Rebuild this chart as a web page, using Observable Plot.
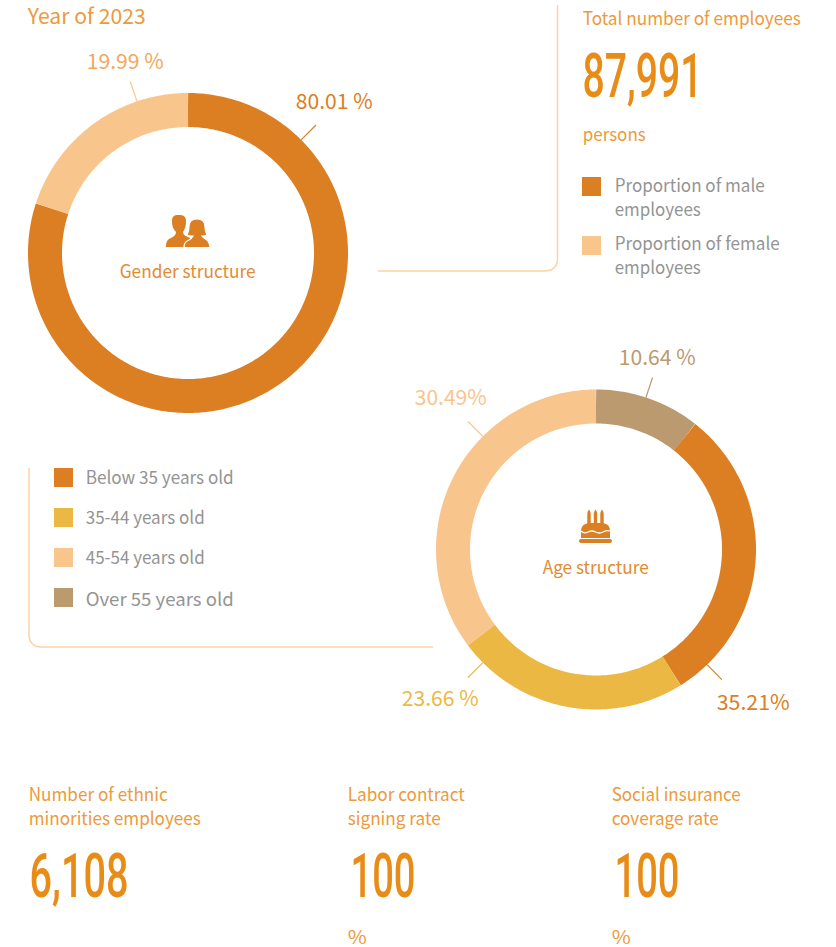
<!DOCTYPE html>
<html><head><meta charset="utf-8">
<style>html,body{margin:0;padding:0;background:#fff;overflow:hidden}svg{display:block}</style>
<script src="https://cdn.jsdelivr.net/npm/d3@7"></script>
<script src="https://cdn.jsdelivr.net/npm/@observablehq/plot@0.6"></script>
</head><body><div id="chart"></div>
<script>
// ---- data ----
const genderCategories = ["Proportion of male employees", "Proportion of female employees"];
const genderValues = [80.01, 19.99];
const ageCategories = ["Below 35 years old", "35-44 years old", "45-54 years old", "Over 55 years old"];
const ageLabelValues = [35.21, 23.66, 30.49, 10.64];      // as printed beside the ring
const ageArcValues = [30.49, 23.66, 35.21, 10.64];        // as drawn: the printed 35.21 / 30.49 arcs are swapped in the picture
const ageDrawOrder = [3, 0, 1, 2]; // clockwise from twelve o'clock
const colorDomain = ["male", "female", ...ageCategories];
const colorRange = ["#DC7E22", "#F8C58D", "#DC7E22", "#ECB844", "#F8C58D", "#BB9A70"];

// ---- styles ----
const ORANGE = "#E98C17", SOFT = "#EC9A3C", GREY = "#949494", FRAME = "#FBD3A6";
const FONT = "Noto Sans CJK SC", NUM = "Roboto";
const R_OUT = 160, R_IN = 126, R_MID = (R_OUT + R_IN) / 2, R_TICK = 181;
const genderC = [187.5, 252.5], ageC = [595.5, 549];

// ---- donut rings as thick lines, from the values ----
function ring(values, keys, [cx, cy]) {
  const rows = [];
  d3.pie().sort(null)(values).forEach((a, i) => {
    const n = Math.max(2, Math.ceil((a.endAngle - a.startAngle) / (Math.PI / 180)));
    for (let k = 0; k <= n; k++) {
      const t = a.startAngle + (a.endAngle - a.startAngle) * k / n;
      rows.push({key: keys[i], x: cx + R_MID * Math.sin(t), y: cy - R_MID * Math.cos(t)});
    }
  });
  return rows;
}
const rings = [
  ...ring(genderValues, ["male", "female"], genderC),
  ...ring(ageDrawOrder.map(i => ageArcValues[i]), ageDrawOrder.map(i => ageCategories[i]), ageC)
];

// ---- leader lines ----
const tick = ([cx, cy], deg, stroke) => {
  const t = deg * Math.PI / 180;
  return {stroke,
    x1: cx + R_OUT * Math.sin(t), y1: cy - R_OUT * Math.cos(t),
    x2: cx + R_TICK * Math.sin(t), y2: cy - R_TICK * Math.cos(t)};
};
const ticks = [
  tick(genderC, 45, "#DC7E22"), tick(genderC, -18.6, "#F8C58D"),
  tick(ageC, 18.2, "#BB9A70"), tick(ageC, 136, "#DC7E22"),
  tick(ageC, 225, "#ECB844"), tick(ageC, -45, "#F8C58D")
];

// ---- swatches ----
const swatches = [
  ["male", 582, 177], ["female", 582, 236],
  [ageCategories[0], 54, 468], [ageCategories[1], 54, 508],
  [ageCategories[2], 54, 548], [ageCategories[3], 54, 588]
].map(([key, x, y]) => ({key, x1: x, x2: x + 19, y1: y, y2: y + 19}));

// ---- text: [string, left x, baseline y, size, colour, fitted width, font, weight]
const texts = [
  ["Year of 2023", 27.2, 23, 21, SOFT, 118],
  ["Total number of employees", 582.2, 24, 18, SOFT, 218],
  ["87,991", 582, 96, 62, ORANGE, 120, NUM, 500],
  ["persons", 582.2, 140, 18, SOFT, 63],
  ["Proportion of male", 614.2, 191, 18, GREY, 150],
  ["employees", 614.2, 215, 18, GREY, 86],
  ["Proportion of female", 614.2, 249, 18, GREY, 165],
  ["employees", 614.2, 273, 18, GREY, 86],
  [genderValues[1].toFixed(2) + " %", 86.2, 68, 21, "#F4A65C", 77],
  [genderValues[0].toFixed(2) + " %", 295.2, 108, 21, "#DC7E22", 77],
  ["Gender structure", 119.2, 277, 18, "#E38B33", 136],
  ["Age structure", 542.2, 573, 18, "#E38B33", 106],
  [ageLabelValues[3].toFixed(2) + " %", 618.2, 364, 21, "#BB9A70", 77],
  [ageLabelValues[2].toFixed(2) + "%", 414.2, 404, 21, "#F8C58D", 72],
  [ageLabelValues[1].toFixed(2) + " %", 401.2, 705, 21, "#ECB844", 77],
  [ageLabelValues[0].toFixed(2) + "%", 716.2, 709, 21, "#DC7E22", 73],
  [ageCategories[0], 85.2, 483, 18, GREY, 148],
  [ageCategories[1], 85.2, 523, 18, GREY, 119],
  [ageCategories[2], 85.2, 563, 18, GREY, 119],
  [ageCategories[3], 85.2, 605, 18, GREY, 148],
  ["Number of ethnic", 28.2, 800, 18, SOFT, 139],
  ["minorities employees", 28.2, 824, 18, SOFT, 172],
  ["Labor contract", 347.2, 800, 18, SOFT, 117],
  ["signing rate", 347.2, 824, 18, SOFT, 93],
  ["Social insurance", 611.2, 800, 18, SOFT, 129],
  ["coverage rate", 611.2, 824, 18, SOFT, 107],
  ["6,108", 29, 896, 62, ORANGE, 99, NUM, 500],
  ["100", 350, 896, 62, ORANGE, 65, NUM, 500],
  ["100", 614, 896, 62, ORANGE, 65, NUM, 500],
  ["%", 347.2, 943, 18, SOFT, 19],
  ["%", 611.2, 943, 18, SOFT, 19]
];

// ---- decoration: frames and icons ----
const decoration = () => {
  const g = d3.create("svg:g");
  g.append("path").attr("fill", "none").attr("stroke", FRAME).attr("stroke-width", 1.5)
    .attr("d", "M557.5,5V258Q557.5,271 544.5,271H378");
  g.append("path").attr("fill", "none").attr("stroke", FRAME).attr("stroke-width", 1.5)
    .attr("d", "M29,468V634Q29,647 42,647H433");
  const c = "#DC7E22";
  const people = g.append("g").attr("fill", c);
  people.append("path").attr("d", "M172,221C172,215 176,215 179,215C183,215 186,216 186,221C186,226 185,229 183,232C183,235 186,236 190,238C193,239 196,241 197,247H166C166,241 168,239 171,238C174,236 176,235 176,232C173,229 172,226 172,221Z");
  people.append("path").attr("stroke", "#fff").attr("stroke-width", 1.2)
    .attr("d", "M189,227C189,221 193,219 197,219C202,219 205,222 205,227C205,231 206,233 207,235C205,236 204,236 202,236C203,238 206,239 208,241C209,243 210,245 210,247.5H184C184,244 186,241 189,240C191,239 192,238 193,236C191,236 189,236 187,235C188,233 189,231 189,227Z");
  const cake = g.append("g").attr("fill", c);
  [589, 595.5, 602].forEach(x => {
    cake.append("rect").attr("x", x - 1.7).attr("y", 514).attr("width", 3.4).attr("height", 10);
    cake.append("path").attr("d", `M${x},509.5Q${x + 2.2},512.5 ${x + 1.7},514H${x - 1.7}Q${x - 2.2},512.5 ${x},509.5Z`);
  });
  cake.append("path").attr("d", "M581,531C581,525 586,523 590,523H601C606,523 610,525 610,531V538H581Z");
  cake.append("path").attr("fill", "none").attr("stroke", "#fff").attr("stroke-width", 1.3)
    .attr("d", "M581,531Q584,534 588,532T595.5,532T603,532T610,531");
  cake.append("rect").attr("x", 579).attr("y", 539).attr("width", 33).attr("height", 4).attr("rx", 2);
  return g.node();
};

const chart = Plot.plot({
  width: 836, height: 947,
  margin: 0,
  x: {domain: [0, 836], range: [0, 836], axis: null},
  y: {domain: [0, 947], range: [0, 947], axis: null},
  color: {domain: colorDomain, range: colorRange},
  style: {background: "#fff"},
  marks: [
    Plot.line(rings, {x: "x", y: "y", z: "key", stroke: "key", strokeWidth: R_OUT - R_IN,
      strokeLinecap: "butt", strokeLinejoin: "round"}),
    ...ticks.map(d => Plot.link([d], {x1: "x1", y1: "y1", x2: "x2", y2: "y2", stroke: d.stroke, strokeWidth: 1.2})),
    Plot.rect(swatches, {x1: "x1", x2: "x2", y1: "y1", y2: "y2", fill: "key"}),
    decoration,
    ...texts.map(([t, x, y, size, fill, w, font, weight]) =>
      Plot.text([{t, x, y}], {x: "x", y: "y", text: "t", textAnchor: "start", lineAnchor: "bottom",
        fontSize: size, fill, fontFamily: font || FONT, fontWeight: weight || 400}))
  ]
});
// fit each text run to its measured width
chart.querySelectorAll("text").forEach((el, i) => {
  el.setAttribute("textLength", texts[i][5]);
  el.setAttribute("lengthAdjust", "spacingAndGlyphs");
});
document.getElementById("chart").append(chart);
</script></body></html>
